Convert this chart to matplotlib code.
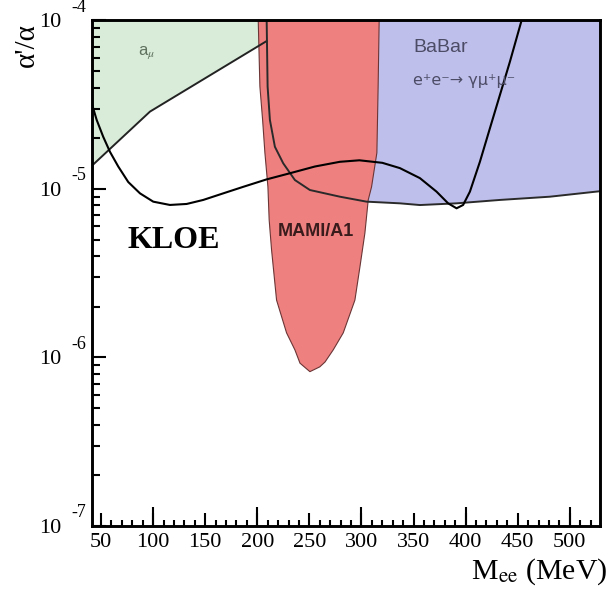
import numpy as np
import matplotlib
matplotlib.use("Agg")
import matplotlib.pyplot as plt
from matplotlib.ticker import FixedLocator, NullFormatter, LogLocator, NullLocator

plt.rcParams['mathtext.fontset'] = 'stix'

# a_mu excluded region (upper-left corner)
amu_x = [41, 41, 97, 209, 209]
amu_y = [1e-4, 1.37e-5, 2.88e-5, 7.55e-5, 1e-4]

# BaBar e+e- -> gamma mu+ mu- boundary (top to right edge)
babar_x = [209, 209.9, 212.1, 216.9, 224.9, 236.1, 250.5, 279.3, 304.9, 336.9,
           356.1, 391.3, 432.9, 480.9, 529]
babar_y = [1e-4, 4.05e-5, 2.57e-5, 1.78e-5, 1.42e-5, 1.13e-5, 9.86e-6, 9.0e-6,
           8.41e-6, 8.22e-6, 8.03e-6, 8.22e-6, 8.61e-6, 9.0e-6, 9.7e-6]

# MAMI/A1 excluded region (left edge down to tip, then right edge up)
mami_x = [200.9, 202.5, 205.1, 207.3, 210.2, 211.4, 213.7, 218.5, 228.1, 236.1,
          241, 250.5, 260, 265, 272.9, 282.5, 293.7, 298.5, 303.3, 306.5,
          309.7, 314.8, 316.0, 317.0]
mami_y = [1e-4, 4.05e-5, 2.57e-5, 1.64e-5, 1.03e-5, 6.55e-6, 4.35e-6, 2.19e-6,
          1.40e-6, 1.11e-6, 9.25e-7, 8.24e-7, 8.8e-7, 9.4e-7, 1.11e-6, 1.40e-6,
          2.19e-6, 3.44e-6, 5.48e-6, 8.61e-6, 1.03e-5, 1.64e-5, 4.05e-5, 1e-4]

# KLOE sensitivity curve
kloe_x = [41, 45.8, 52.1, 58.6, 66.5, 76.1, 87.4, 100.1, 116.1, 132.2, 148.1,
          167.3, 186.5, 208.9, 231.3, 255.4, 279.3, 298, 320, 336.9, 356.1,
          372.1, 383.2, 391.3, 397.6, 404.1, 413.7, 423.3, 432.9, 442.5, 453.7]
kloe_y = [3.23e-5, 2.57e-5, 2.04e-5, 1.66e-5, 1.36e-5, 1.10e-5, 9.42e-6, 8.41e-6,
          8.04e-6, 8.15e-6, 8.61e-6, 9.42e-6, 1.03e-5, 1.14e-5, 1.24e-5, 1.36e-5,
          1.45e-5, 1.48e-5, 1.43e-5, 1.33e-5, 1.16e-5, 9.64e-6, 8.22e-6, 7.68e-6,
          8.04e-6, 9.64e-6, 1.45e-5, 2.29e-5, 3.61e-5, 5.69e-5, 1e-4]

x_major = [50, 100, 150, 200, 250, 300, 350, 400, 450, 500]
x_long = [100, 200, 300, 400, 500]
y_major = [1e-7, 1e-6, 1e-5, 1e-4]
y_exp = ['-7', '-6', '-5', '-4']

fig = plt.figure(figsize=(6.14, 5.92), dpi=100)
ax = fig.add_axes([0.1493, 0.1115, 0.8279, 0.8539])
ax.set_yscale('log')
ax.set_xlim(41, 529)
ax.set_ylim(1e-7, 1e-4)

# filled regions
ax.fill(amu_x, amu_y, color='#d9ecd9', lw=0, zorder=1)
ax.fill(babar_x + [529], babar_y + [1e-4], color='#bfbfec', lw=0, zorder=1)
ax.fill(mami_x, mami_y, facecolor='#ef8080', edgecolor='#6b3535', lw=0.8, zorder=3)

# boundary lines and KLOE curve
ax.plot(amu_x[1:4], amu_y[1:4], color='#222222', lw=1.4, zorder=4)
ax.plot(babar_x, babar_y, color='#2a2a2a', lw=1.4, zorder=4)
ax.plot(kloe_x, kloe_y, color='black', lw=1.5, zorder=5, solid_joinstyle='round')

# labels inside the plot
sans = ['Liberation Sans', 'DejaVu Sans']
ax.text(94, 6.4e-5, r'a$_{\mu}$', fontsize=12, color='#5f705f', family=sans,
        ha='center', va='center', zorder=6)
ax.text(349.4, 6.9e-5, 'BaBar', fontsize=14, color='#4c4c66',
        family=sans, ha='left', va='center', zorder=6)
ax.text(349.4, 4.43e-5, 'e⁺e⁻→ γμ⁺μ⁻', fontsize=11.5, color='#4c4c66',
        family='DejaVu Sans', ha='left', va='center', zorder=6)
ax.text(219.8, 5.56e-6, 'MAMI/A1', fontsize=13, color='#3a1c1c',
        family=sans, fontweight='bold', ha='left', va='center', zorder=6)
ax.text(120, 4.98e-6, 'KLOE', fontsize=23, fontweight='bold',
        family='Liberation Serif', ha='center', va='center', zorder=6)

# spines
for side in ['left', 'right', 'top', 'bottom']:
    ax.spines[side].set_linewidth(2.1)
    ax.spines[side].set_zorder(10)

# x ticks
ax.xaxis.set_major_locator(FixedLocator(x_major))
ax.set_xticklabels([str(v) for v in x_major], family='Liberation Serif', fontsize=16)
ax.xaxis.set_minor_locator(FixedLocator(np.arange(50, 530, 10)))
ax.tick_params(axis='x', which='major', direction='in', length=9.5, width=1.5, pad=5)
ax.tick_params(axis='x', which='minor', direction='in', length=4, width=1.5)
sec = ax.secondary_xaxis('bottom')
sec.set_xticks(x_long)
sec.xaxis.set_minor_locator(NullLocator())
sec.tick_params(direction='in', length=13.7, width=1.5, labelbottom=False)
sec.spines['bottom'].set_visible(False)

# y ticks
ax.yaxis.set_major_locator(FixedLocator(y_major))
ax.set_yticklabels(['10'] * len(y_major), family='Liberation Serif', fontsize=16)
ax.yaxis.set_minor_locator(LogLocator(base=10, subs=np.arange(2, 10)))
ax.yaxis.set_minor_formatter(NullFormatter())
ax.tick_params(axis='y', which='major', direction='in', length=10, width=1.5, pad=21.5)
ax.tick_params(axis='y', which='minor', direction='in', length=5.8, width=1.5)
for v, e in zip(y_major, y_exp):
    ax.text(-0.039, v * 1.2, e, transform=ax.get_yaxis_transform(),
            family='Liberation Serif', fontsize=13, ha='left', va='center', clip_on=False)

# axis titles
fig.text(0.989, 0.022, r'M$_{\mathrm{ee}}$ (MeV)', family='Liberation Serif',
         fontsize=21.5, ha='right', va='baseline')
fig.text(0.043, 1 - 45 / 592, "α'/α", family='Liberation Serif', fontsize=21,
         rotation=90, ha='center', va='center')

plt.savefig('out.png', dpi=100)
